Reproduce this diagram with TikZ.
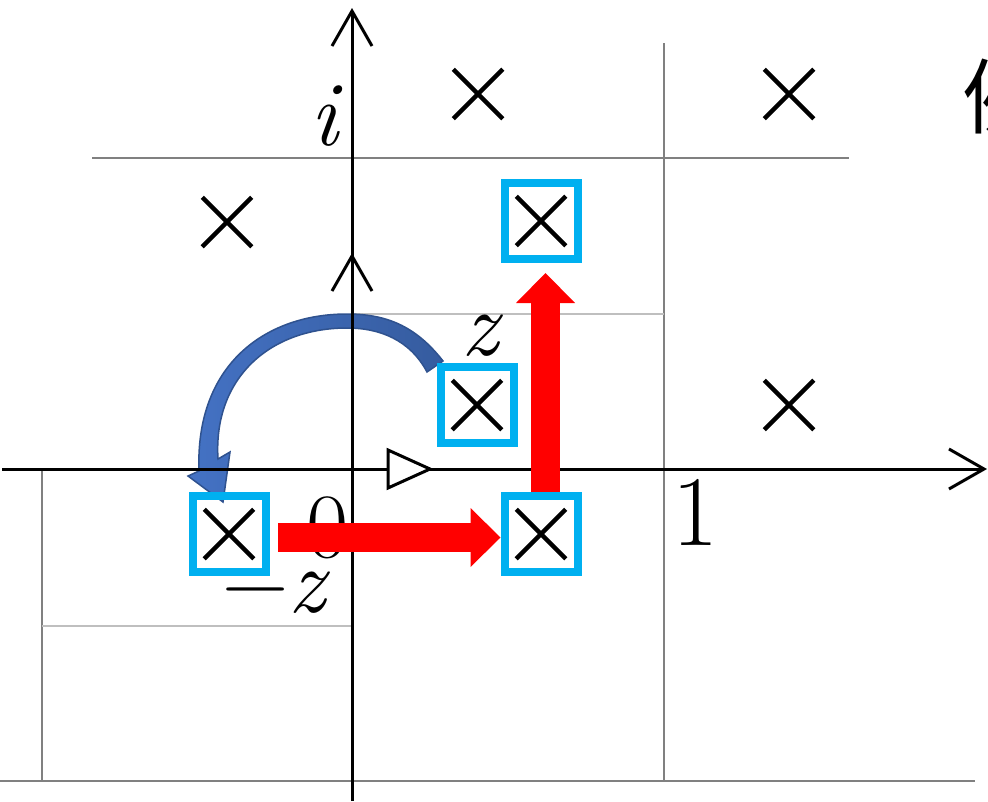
\documentclass[tikz,border=0pt]{standalone}
\usepackage{fontspec}
\newfontfamily\cjk{Noto Sans CJK JP}
\usetikzlibrary{arrows.meta,shapes.misc}
\definecolor{boxblue}{RGB}{0,176,240}
\definecolor{flipblue}{RGB}{68,114,196}
\definecolor{flipedge}{RGB}{47,82,143}
\definecolor{gridgray}{RGB}{128,128,128}
\definecolor{halfgray}{RGB}{191,191,191}

\begin{document}
\begin{tikzpicture}[x=1pt, y=-1pt,
  gridline/.style={gridgray, line width=2pt},
  halfline/.style={halfgray, line width=2pt},
  axisline/.style={line width=3pt, -{Straight Barb[length=35pt,width=40pt]}},
  xmark/.style={cross out, draw, line width=4.5pt, minimum size=45pt, inner sep=0pt},
  pole/.style={draw=boxblue, line width=8pt, minimum width=73pt, minimum height=76pt, inner sep=0pt},
  lbl/.style={font=\fontsize{92}{92}\selectfont\itshape, inner sep=0pt, anchor=base},
  digit/.style={font=\fontsize{100}{100}\selectfont, inner sep=0pt, anchor=base},
  redarrow/.style={red, line width=29pt, -{Triangle[length=30pt,width=59pt,line width=0pt]}}]
\useasboundingbox (0,0) rectangle (988,801);
% lattice lines
\draw[gridline] (92,158) -- (849,158);
\draw[gridline] (664,43) -- (664,781);
\draw[gridline] (0,781) -- (975,781);
\draw[gridline] (42,469) -- (42,781);
\draw[halfline] (42,626) -- (352,626);
\draw[halfline] (352,314) -- (664,314);
% rotation z -> -z
\path[left color=flipblue, right color=flipedge!70!flipblue, draw=flipedge, line width=1.5pt]
  (443,361) .. controls (415,325) and (385,314) .. (347,314)
  .. controls (265,314) and (195,365) .. (199,471) -- (188,476) -- (223,502) -- (230,452)
  -- (218,459) .. controls (213,378) and (270,328) .. (347,328)
  .. controls (380,328) and (410,340) .. (427,372) -- cycle;
% axes
\draw[axisline] (2,469) -- (987,469);
\draw[axisline] (352,801) -- (352,8);
\draw[axisline] (352,300) -- (352,253);
\draw[line width=3pt, fill=white] (388,450) -- (430,469) -- (388,488) -- cycle;
% lattice points
\foreach \p in {(478,94),(789,94),(227,222),(789,405)}
  \node[xmark] at \p {};
\node[pole] (z) at (477,405) {};
\node[pole] (mz) at (229,534) {};
\node[pole] (w) at (541,534) {};
\node[pole] (wi) at (541,221) {};
\foreach \n in {z,mz,w,wi}
  \node[xmark] at (\n) {};
% labels
\node[lbl] (ilbl) at (324,145) {i};
\node[lbl] (zlbl) at (480,355) {z};
\node[lbl] (mzlbl) at (274,612) {{\upshape −}z};
\node[digit, font=\fontsize{92}{92}\selectfont] (zero) at (328,557) {0};
\node[digit] (one) at (695,545) {1};
\node[anchor=base west, inner sep=0pt, font=\cjk\fontsize{82}{82}\selectfont] (rei) at (963,127) {例};
% translations
\draw[redarrow, shorten <=8.5pt] ([yshift=-3.5pt]mz.east) -- ([yshift=-3.5pt]w.west);
\draw[redarrow, shorten >=10pt] ([xshift=4.5pt]w.north) -- ([xshift=4.5pt]wi.south);
\end{tikzpicture}
\end{document}
